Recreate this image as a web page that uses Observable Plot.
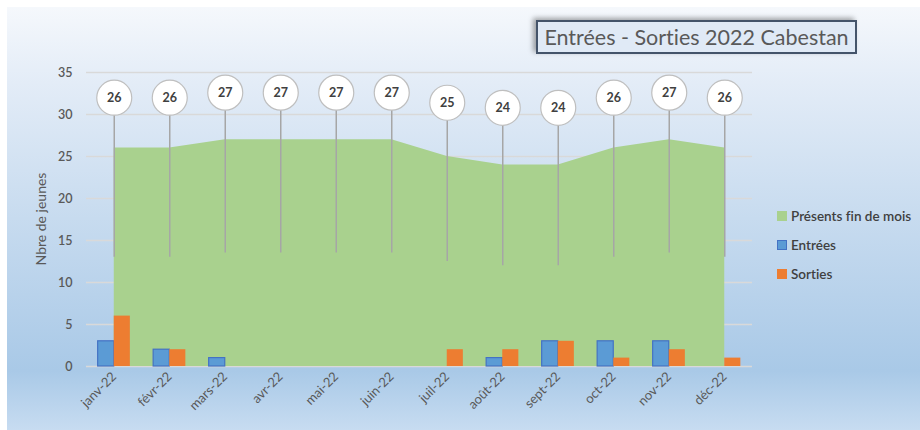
<!DOCTYPE html>
<html>
<head>
<meta charset="utf-8">
<script src="https://cdn.jsdelivr.net/npm/d3@7"></script>
<script src="https://cdn.jsdelivr.net/npm/@observablehq/plot@0.6"></script>
<style>
  html, body { margin: 0; padding: 0; background: #fff; }
  #wrap { position: relative; width: 920px; height: 430px; overflow: hidden; background: #fff; font-family: Lato, "Open Sans", sans-serif;
          font-variant-ligatures: none; font-feature-settings: "liga" 0, "clig" 0; }
  #wrap svg text { font-variant-ligatures: none; font-feature-settings: "liga" 0, "clig" 0; }
  #bg { position: absolute; left: 7px; top: 7px; width: 913px; height: 423px;
        background: linear-gradient(to bottom, #f5f8fc 0%, #e3ecf7 18%, #c7dbef 50%, #a9c9e7 86%, #c7dcf1 100%); }
  #chart { position: absolute; left: 0; top: 0; }
  #title { position: absolute; left: 536px; top: 20px; width: 317px; height: 30px; border: 2px solid #44546a;
           background: #e0eaf6; box-shadow: -3px -2px 5px rgba(0,0,0,0.35);
           font-size: 21.5px; color: #595959; line-height: 30px; text-align: center; white-space: nowrap; }
  #ylabel { position: absolute; left: 40px; top: 219px; transform: translate(-50%, -50%) rotate(-90deg);
            font-size: 14px; color: #595959; white-space: nowrap; }
  #legend { position: absolute; left: 777px; top: 207px; font-size: 13.5px; color: #404040; font-weight: 600; }
  .item { display: flex; align-items: center; height: 18px; margin-bottom: 11px; white-space: nowrap; }
  .sw { width: 10px; height: 10px; margin-right: 4px; box-sizing: border-box; }
</style>
</head>
<body>
<div id="wrap">
  <div id="bg"></div>
  <div id="chart"></div>
  <div id="title">Entrées - Sorties 2022 Cabestan</div>
  <div id="ylabel"></div>
  <div id="legend"></div>
</div>
<script>
const months = ["janv-22","févr-22","mars-22","avr-22","mai-22","juin-22","juil-22","août-22","sept-22","oct-22","nov-22","déc-22"];
const presents = [26,26,27,27,27,27,25,24,24,26,27,26];
const entrees  = [3,2,1,0,0,0,0,1,3,3,3,0];
const sorties  = [6,2,0,0,0,0,2,2,3,1,2,1];
const yTicks = [0,5,10,15,20,25,30,35];

const seriesNames = ["Présents fin de mois","Entrées","Sorties"];
const seriesColors = ["#a9d18e","#5b9bd5","#ed7d31"];
const yLabel = "Nbre de jeunes";

const data = months.map((m, i) => ({i, month: m, present: presents[i], entree: entrees[i], sortie: sorties[i]}));
const labelY = d => 16.4 + 0.6 * d.present;
const bw = 0.29;

const chart = Plot.plot({
  width: 920,
  height: 430,
  marginLeft: 86,
  marginRight: 168,
  marginTop: 72,
  marginBottom: 64,
  style: {background: "transparent", fontFamily: "Lato, 'Open Sans', sans-serif"},
  x: {type: "linear", domain: [-0.5, 11.5]},
  y: {domain: [0, 35]},
  marks: [
    Plot.ruleY(yTicks, {stroke: "#d9d9d9", strokeWidth: 1.5}),
    Plot.areaY(data, {x: "i", y: "present", fill: seriesColors[0], curve: "linear"}),
    Plot.ruleX(data, {x: "i", y1: d => d.present / 2, y2: labelY, stroke: "#a6a6a6", strokeWidth: 1.5}),
    Plot.rect(data.filter(d => d.entree > 0), {x1: d => d.i - bw, x2: d => d.i, y1: 0, y2: "entree", fill: seriesColors[1], stroke: "#4472c4", strokeWidth: 1.2}),
    Plot.rect(data.filter(d => d.sortie > 0), {x1: d => d.i, x2: d => d.i + bw, y1: 0, y2: "sortie", fill: seriesColors[2]}),
    Plot.dot(data, {x: "i", y: labelY, r: 17.5, fill: "white", stroke: "#bfbfbf", strokeWidth: 1.2}),
    Plot.text(data, {x: "i", y: labelY, text: d => String(d.present), fill: "#404040", fontSize: 12.5, fontWeight: 700}),
    Plot.axisY({ticks: yTicks, tickSize: 0, tickPadding: 14, fontSize: 12.5, fontWeight: 600, color: "#595959", label: null}),
    Plot.axisX({ticks: d3.range(12), tickFormat: i => months[i], tickRotate: -45, tickSize: 0, tickPadding: 8,
      fontSize: 13, color: "#595959", label: null})
  ]
});
document.getElementById("chart").appendChild(chart);
document.getElementById("ylabel").textContent = yLabel;

const leg = document.getElementById("legend");
seriesNames.forEach((n, k) => {
  const it = document.createElement("div");
  it.className = "item";
  const sw = document.createElement("div");
  sw.className = "sw";
  sw.style.background = seriesColors[k];
  if (k === 1) sw.style.border = "1.2px solid #4472c4";
  const t = document.createElement("span");
  t.textContent = n;
  it.appendChild(sw); it.appendChild(t);
  leg.appendChild(it);
});
</script>
</body>
</html>
